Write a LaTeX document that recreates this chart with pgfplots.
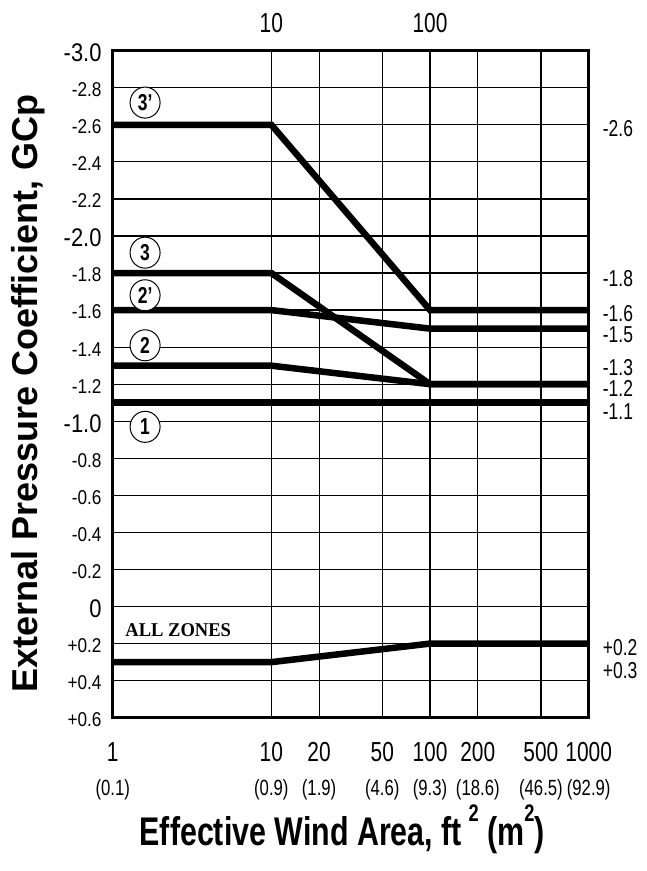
\documentclass[border=0pt]{standalone}
\usepackage{fontspec}
\setmainfont{Liberation Sans}[FakeStretch=0.76]
\newfontfamily\ynum{Liberation Sans}[FakeStretch=0.86]
\newfontfamily\ylab{Liberation Sans}[FakeStretch=1.0]
\newfontfamily\serifb{Liberation Serif}[FakeStretch=0.95]
\usepackage{pgfplots}
\pgfplotsset{compat=1.18}
\usetikzlibrary{shapes.geometric}
\newcommand\ys{\ynum\fontsize{20}{20}\selectfont}
\newcommand\yb{\ynum\fontsize{25.5}{25.5}\selectfont}
\begin{document}
\begin{tikzpicture}[x=1pt,y=1pt]
\useasboundingbox (0,0) rectangle (646,871);
\begin{axis}[
  at={(112.7pt,153.3pt)}, anchor=south west,
  scale only axis, width=476pt, height=667pt,
  xmode=log, log basis x=10, xmin=1, xmax=1000,
  ymin=-3.0, ymax=0.6, y dir=reverse,
  xtick={1,10,20,50,100,200,500,1000},
  xticklabels={1,10,20,50,100,200,500,1000},
  xticklabel style={anchor=base, yshift=-44pt, font=\fontsize{27.5}{27.5}\selectfont},
  ytick={-3.0,-2.8,-2.6,-2.4,-2.2,-2.0,-1.8,-1.6,-1.4,-1.2,-1.0,-0.8,-0.6,-0.4,-0.2,0,0.2,0.4,0.6},
  yticklabels={{\yb -3.0},{\ys -2.8},{\ys -2.6},{\ys -2.4},{\ys -2.2},{\yb -2.0},{\ys -1.8},{\ys -1.6},{\ys -1.4},{\ys -1.2},{\yb -1.0},{\ys -0.8},{\ys -0.6},{\ys -0.4},{\ys -0.2},{\yb 0},{\ys +0.2},{\ys +0.4},{\ys +0.6}},
  yticklabel style={anchor=east, inner sep=0pt, xshift=-11pt, yshift=-2pt},
  grid=major, major grid style={black, line width=1.2pt},
  axis line style={black, line width=2.5pt},
  major tick length=0pt,
  clip=false,
  xlabel={\bfseries Effective Wind Area, ft\,\raisebox{0.6em}{\fontsize{24}{24}\selectfont 2} (m\raisebox{0.6em}{\fontsize{24}{24}\selectfont 2})},
  xlabel style={at={(axis description cs:0.482,-0.168)}, anchor=center, font=\fontsize{40}{40}\selectfont},
  ylabel={\bfseries External Pressure Coefficient, GCp},
  ylabel style={at={(axis description cs:-0.178,0.486)}, anchor=center, font=\ylab\fontsize{36}{36}\selectfont},
]
\addplot[black, line width=6.5pt] coordinates {(1,-2.6) (10,-2.6) (100,-1.6) (1000,-1.6)};
\addplot[black, line width=6.5pt] coordinates {(1,-1.8) (10,-1.8) (100,-1.2) (1000,-1.2)};
\addplot[black, line width=6.5pt] coordinates {(1,-1.6) (10,-1.6) (100,-1.5) (1000,-1.5)};
\addplot[black, line width=6.5pt] coordinates {(1,-1.3) (10,-1.3) (100,-1.2) (1000,-1.2)};
\addplot[black, line width=6.5pt] coordinates {(1,-1.1) (1000,-1.1)};
\addplot[black, line width=6.5pt] coordinates {(1,0.3) (10,0.3) (100,0.2) (1000,0.2)};

% circled zone labels
\tikzset{zone/.style={draw, ellipse, line width=1pt, fill=white, minimum width=30pt, minimum height=31pt, inner sep=0pt, font=\bfseries\fontsize{23}{23}\selectfont}}
\node[zone] at (axis cs:1.6,-2.72) {3'};
\node[zone] at (axis cs:1.6,-1.91) {3};
\node[zone] at (axis cs:1.6,-1.68) {2'};
\node[zone] at (axis cs:1.6,-1.41) {2};
\node[zone] at (axis cs:1.6,-0.97) {1};
\node[anchor=west, inner sep=0pt, font=\serifb\bfseries\fontsize{19.5}{19.5}\selectfont] at (axis cs:1.2,0.13) {ALL ZONES};

% right-side values
\tikzset{rl/.style={anchor=west, inner sep=0pt, xshift=14pt, font=\fontsize{23}{23}\selectfont}}
\node[rl] at (axis cs:1000,-2.58) {-2.6};
\node[rl] at (axis cs:1000,-1.77) {-1.8};
\node[rl] at (axis cs:1000,-1.58) {-1.6};
\node[rl] at (axis cs:1000,-1.465) {-1.5};
\node[rl] at (axis cs:1000,-1.29) {-1.3};
\node[rl] at (axis cs:1000,-1.175) {-1.2};
\node[rl] at (axis cs:1000,-1.05) {-1.1};
\node[rl] at (axis cs:1000,0.224) {+0.2};
\node[rl] at (axis cs:1000,0.343) {+0.3};

% top labels
\node[anchor=base, font=\fontsize{27.5}{27.5}\selectfont] at ([yshift=18pt]axis cs:10,-3.0) {10};
\node[anchor=base, font=\fontsize{27.5}{27.5}\selectfont] at ([yshift=18pt]axis cs:100,-3.0) {100};

% metric labels
\tikzset{ml/.style={anchor=base, font=\fontsize{22}{22}\selectfont}}
\node[ml] at ([yshift=-78pt]axis cs:1,0.6) {(0.1)};
\node[ml] at ([yshift=-78pt]axis cs:10,0.6) {(0.9)};
\node[ml] at ([yshift=-78pt]axis cs:20,0.6) {(1.9)};
\node[ml] at ([yshift=-78pt]axis cs:50,0.6) {(4.6)};
\node[ml] at ([yshift=-78pt]axis cs:100,0.6) {(9.3)};
\node[ml] at ([yshift=-78pt]axis cs:200,0.6) {(18.6)};
\node[ml] at ([yshift=-78pt]axis cs:500,0.6) {(46.5)};
\node[ml] at ([yshift=-78pt]axis cs:1000,0.6) {(92.9)};
\end{axis}
\end{tikzpicture}
\end{document}
